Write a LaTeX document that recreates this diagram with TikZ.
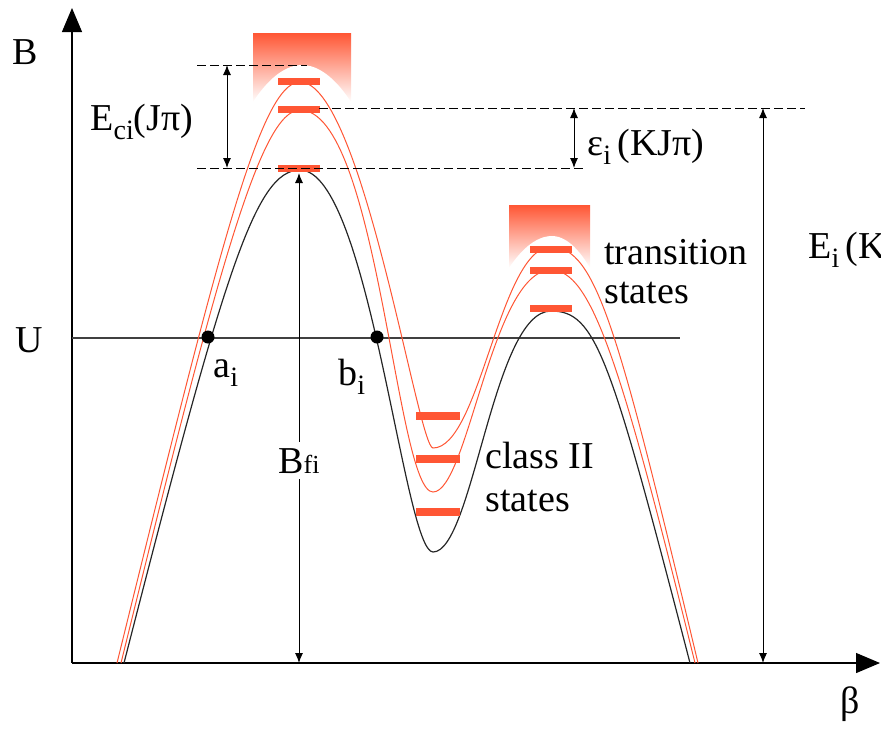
\documentclass[tikz,border=0pt]{standalone}
\usepackage{fontspec}
\setmainfont{Liberation Serif}
\usepackage{tikz}
\usetikzlibrary{arrows.meta}
\definecolor{levelred}{RGB}{255,86,52}
\newcommand{\lowsub}[1]{\raisebox{-4.5pt}{\fontsize{14}{16}\selectfont #1}}

\begin{document}
\begin{tikzpicture}[x=0.5pt, y=-0.5pt,
  every node/.style={font=\fontsize{19}{23}\selectfont, inner sep=0pt},
  axis/.style={line width=0.6pt, -{Triangle[length=12pt,width=10pt]}},
  dim/.style={line width=0.5pt, {Latex[length=5pt,width=4pt]}-{Latex[length=5pt,width=4pt]}},
  guide/.style={line width=0.5pt, dash pattern=on 4.5pt off 2pt},
  level/.style={fill=levelred},
  continuum/.style={top color=levelred, bottom color=white},
  blackcurve/.style={line width=0.6pt, black!85},
  redcurve/.style={line width=0.5pt, levelred},
  dot/.style={circle, fill=black, minimum size=6.5pt, inner sep=0pt}]

\clip (0,0) rectangle (881,730);

%continuum above the two barriers
\shade[continuum] (253,33) rectangle (351,102);
\fill[white] (253,102) parabola bend (302,65) (351,102) -- cycle;
\shade[continuum] (509,205) rectangle (590,268);
\fill[white] (509,268) parabola bend (552,236) (590,268) -- cycle;

%axes
\coordinate (O) at (72,663);
\coordinate (ytop) at (72,8);
\coordinate (xend) at (880,663);
\draw[axis] (O) -- (ytop);
\draw[axis] (O) -- (xend);
\node (Blab) at (25,52) {B};
\node (Ulab) at (29,340) {U};
\node (betalab) at (850,704) {β};

\coordinate (U0) at (72,338);
\coordinate (U1) at (680,338);
\draw[line width=0.75pt, black!75] (U0) -- (U1);

%barriers
\draw[blackcurve] (124,663) .. controls (224,273) and (255,170) .. (300,170)
  .. controls (369,170) and (404,552) .. (433,552)
  .. controls (473,552) and (493,311) .. (551,311)
  .. controls (596,311) and (610,355) .. (690,663);
\draw[redcurve] (121,663) .. controls (216,277) and (260,110) .. (300,110)
  .. controls (378,110) and (396,492) .. (433,492)
  .. controls (468,492) and (492,270) .. (551,270)
  .. controls (591,270) and (620,359) .. (695,663);
\draw[redcurve] (117,663) .. controls (217,257) and (260,82) .. (300,82)
  .. controls (362,82) and (418,448) .. (433,448)
  .. controls (480,448) and (500,247) .. (551,247)
  .. controls (596,247) and (618,328) .. (698,663);

%levels
\foreach \yy in {81,109,168}
  \fill[level] (278,\yy-3.5) rectangle (320,\yy+3.5);
\foreach \yy in {416,459,512}
  \fill[level] (416,\yy-4) rectangle (460,\yy+4);
\foreach \yy in {249,270,308}
  \fill[level] (530,\yy-3.5) rectangle (572,\yy+3.5);

%guide lines
\coordinate (g1a) at (197,65);
\coordinate (g1b) at (307,65);
\coordinate (g2a) at (319,108);
\coordinate (g2b) at (805,108);
\coordinate (g3a) at (197,168);
\coordinate (g3b) at (585,168);
\draw[guide] (g1a) -- (g1b);
\draw[guide] (g2a) -- (g2b);
\draw[guide] (g3a) -- (g3b);

%dimensions
\coordinate (Ecitop) at (227,65);
\coordinate (Ecibot) at (227,168);
\coordinate (epstop) at (574,108);
\coordinate (epsbot) at (574,168);
\coordinate (Eitop) at (763,108);
\coordinate (Eibot) at (763,663);
\coordinate (Bfitop) at (299,173);
\coordinate (Bfibot) at (299,663);
\draw[dim] (Ecitop) -- (Ecibot);
\draw[dim] (epstop) -- (epsbot);
\draw[dim] (Eitop) -- (Eibot);
\draw[dim] (Bfitop) -- node[pos=0.587, fill=white, inner sep=3pt] (Bfilab) {B{\fontsize{13}{15}\selectfont fi}} (Bfibot);

\node[anchor=base west] (Ecilab) at (90,130) {E\lowsub{ci}(Jπ)};
\node[anchor=base west] (epslab) at (587,155) {ε\lowsub{i}\,(KJπ)};
\node[anchor=base west] (Eilab) at (808,258) {E\lowsub{i}\,(KJπ)};

%turning points
\node[dot] (ai) at (208,337) {};
\node[dot] (bi) at (377,337) {};
\node[anchor=base west] (ailab) at (213,377) {a\lowsub{i}};
\node[anchor=base west] (bilab) at (338,385) {b\lowsub{i}};

\node[anchor=base west] (translab) at (604,264) {transition};
\node[anchor=base west] (transstates) at (604,303) {states};
\node[anchor=base west] (classlab) at (485,468) {class II};
\node[anchor=base west] (classstates) at (485,511) {states};
\end{tikzpicture}
\end{document}
